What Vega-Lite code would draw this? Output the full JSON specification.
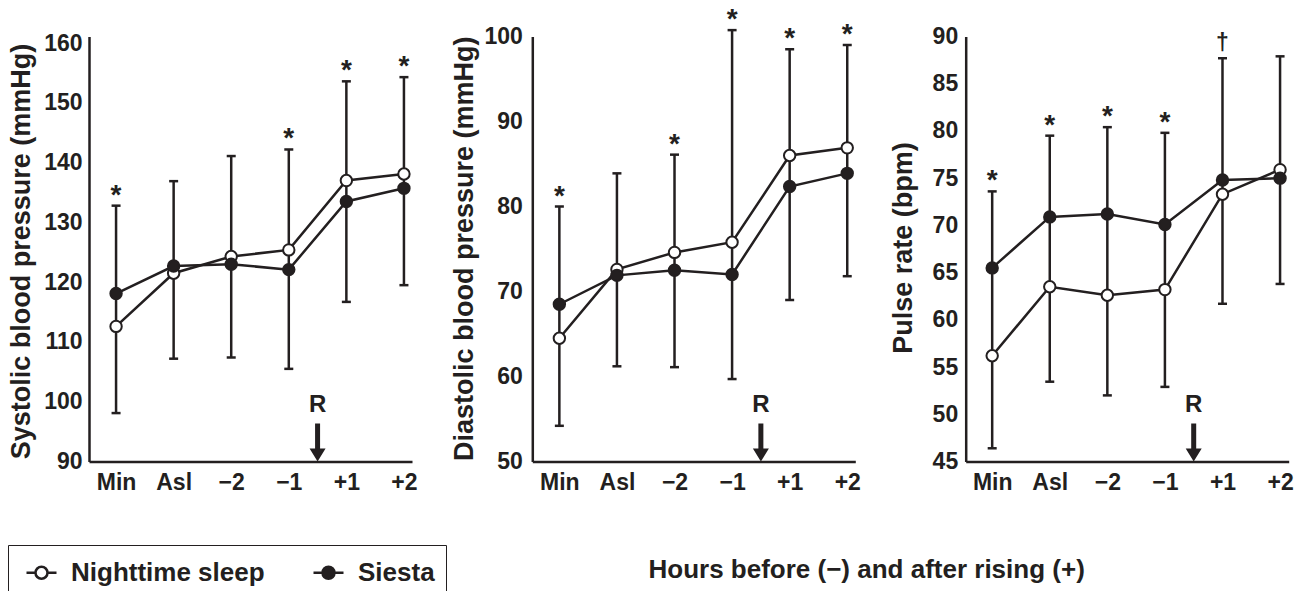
{
  "$schema": "https://vega.github.io/schema/vega-lite/v6.json",
  "padding": {"left": 7, "top": 5.5, "right": 0, "bottom": 0},
  "datasets": {
    "d": [
      {"panel": "SBP", "t": 0, "Nighttime sleep": 112.6, "Siesta": 118.1, "lo": 98.1, "hi": 132.8, "sig": "*"},
      {"panel": "SBP", "t": 1, "Nighttime sleep": 121.5, "Siesta": 122.7, "lo": 107.2, "hi": 136.9, "sig": ""},
      {"panel": "SBP", "t": 2, "Nighttime sleep": 124.3, "Siesta": 123.0, "lo": 107.4, "hi": 141.1, "sig": ""},
      {"panel": "SBP", "t": 3, "Nighttime sleep": 125.4, "Siesta": 122.1, "lo": 105.5, "hi": 142.2, "sig": "*"},
      {"panel": "SBP", "t": 4, "Nighttime sleep": 137.0, "Siesta": 133.5, "lo": 116.7, "hi": 153.6, "sig": "*"},
      {"panel": "SBP", "t": 5, "Nighttime sleep": 138.1, "Siesta": 135.7, "lo": 119.5, "hi": 154.3, "sig": "*"},
      {"panel": "DBP", "t": 0, "Nighttime sleep": 64.5, "Siesta": 68.5, "lo": 54.2, "hi": 80.0, "sig": "*"},
      {"panel": "DBP", "t": 1, "Nighttime sleep": 72.6, "Siesta": 71.9, "lo": 61.2, "hi": 83.9, "sig": ""},
      {"panel": "DBP", "t": 2, "Nighttime sleep": 74.6, "Siesta": 72.5, "lo": 61.1, "hi": 86.1, "sig": "*"},
      {"panel": "DBP", "t": 3, "Nighttime sleep": 75.8, "Siesta": 72.0, "lo": 59.7, "hi": 100.75, "sig": "*"},
      {"panel": "DBP", "t": 4, "Nighttime sleep": 86.0, "Siesta": 82.35, "lo": 69.0, "hi": 98.5, "sig": "*"},
      {"panel": "DBP", "t": 5, "Nighttime sleep": 86.9, "Siesta": 83.9, "lo": 71.8, "hi": 99.0, "sig": "*"},
      {"panel": "PR", "t": 0, "Nighttime sleep": 56.2, "Siesta": 65.5, "lo": 46.4, "hi": 73.6, "sig": "*"},
      {"panel": "PR", "t": 1, "Nighttime sleep": 63.5, "Siesta": 70.9, "lo": 53.45, "hi": 79.5, "sig": "*"},
      {"panel": "PR", "t": 2, "Nighttime sleep": 62.6, "Siesta": 71.2, "lo": 52.0, "hi": 80.4, "sig": "*"},
      {"panel": "PR", "t": 3, "Nighttime sleep": 63.2, "Siesta": 70.1, "lo": 52.9, "hi": 79.8, "sig": "*"},
      {"panel": "PR", "t": 4, "Nighttime sleep": 73.3, "Siesta": 74.8, "lo": 61.7, "hi": 87.7, "sig": "†"},
      {"panel": "PR", "t": 5, "Nighttime sleep": 75.9, "Siesta": 75.0, "lo": 63.8, "hi": 87.9, "sig": ""}
    ],
    "rise": [
      {"t": 3.5, "label": "R"}
    ]
  },
  "bounds": "flush",
  "spacing": 120.3,
  "resolve": {"legend": {"fill": "independent"}},
  "hconcat": [
    {
      "width": 323, "height": 425,
      "layer": [
        {"data": {"name": "d"}, "transform": [{"filter": "datum.panel === 'SBP'"}, {"fold": ["Nighttime sleep", "Siesta"], "as": ["group", "value"]}],
         "mark": {"type": "line", "color": "#231f20", "strokeWidth": 2.5},
         "encoding": {
           "x": {"field": "t", "type": "quantitative", "scale": {"domain": [-0.47, 5.14], "nice": false, "zero": false}, "axis": {"values": [0, 1, 2, 3, 4, 5], "labelExpr": "['Min','Asl','−2','−1','+1','+2'][datum.value]", "title": null, "labelPadding": 10}},
           "y": {"field": "value", "type": "quantitative", "scale": {"domain": [90, 161.1], "nice": false, "zero": false}, "axis": {"values": [90, 100, 110, 120, 130, 140, 150, 160], "title": "Systolic blood pressure (mmHg)", "titleX": -59.5, "titleY": 214.5, "titleAngle": 270, "titleAlign": "center", "titleBaseline": "alphabetic", "labelPadding": 7}},
           "detail": {"field": "group"}}},
        {"data": {"name": "d"}, "transform": [{"filter": "datum.panel === 'SBP'"}],
         "mark": {"type": "rule", "color": "#231f20", "strokeWidth": 2.5},
         "encoding": {"x": {"field": "t", "type": "quantitative"}, "y": {"field": "lo", "type": "quantitative"}, "y2": {"field": "hi"}}},
        {"data": {"name": "d"}, "transform": [{"filter": "datum.panel === 'SBP'"}],
         "mark": {"type": "point", "shape": "stroke", "size": 81, "filled": false, "color": "#231f20", "strokeWidth": 2.5, "opacity": 1},
         "encoding": {"x": {"field": "t", "type": "quantitative"}, "y": {"field": "hi", "type": "quantitative"}}},
        {"data": {"name": "d"}, "transform": [{"filter": "datum.panel === 'SBP'"}],
         "mark": {"type": "point", "shape": "stroke", "size": 81, "filled": false, "color": "#231f20", "strokeWidth": 2.5, "opacity": 1},
         "encoding": {"x": {"field": "t", "type": "quantitative"}, "y": {"field": "lo", "type": "quantitative"}}},
        {"data": {"name": "d"}, "transform": [{"filter": "datum.panel === 'SBP'"}, {"fold": ["Nighttime sleep", "Siesta"], "as": ["group", "value"]}],
         "mark": {"type": "point", "filled": true, "size": 130, "stroke": "#231f20", "strokeWidth": 2, "opacity": 1},
         "encoding": {"x": {"field": "t", "type": "quantitative"}, "y": {"field": "value", "type": "quantitative"},
           "fill": {"field": "group", "type": "nominal", "scale": {"domain": ["Nighttime sleep", "Siesta"], "range": ["#ffffff", "#231f20"]},
             "legend": {"title": null, "orient": "none", "legendX": -81, "legendY": 508.5, "direction": "horizontal", "columns": 2,
               "symbolType": "M-1,0H-0.4M0.4,0H1M-0.4,0A0.4,0.4,0,1,1,0.4,0A0.4,0.4,0,1,1,-0.4,0Z", "symbolSize": 900,
               "symbolStrokeColor": "#231f20", "symbolStrokeWidth": 2.5, "symbolOffset": 6,
               "labelFont": "Liberation Sans", "labelFontSize": 26, "labelFontWeight": "bold", "labelColor": "#231f20", "labelLimit": 0,
               "labelOffset": 13, "columnPadding": 41, "padding": 11, "strokeColor": "#231f20"}}}},
        {"data": {"name": "d"}, "transform": [{"filter": "datum.panel === 'SBP' && datum.sig === '*'"}],
         "mark": {"type": "text", "fontSize": 28, "baseline": "alphabetic", "dy": -2},
         "encoding": {"x": {"field": "t", "type": "quantitative"}, "y": {"field": "hi", "type": "quantitative"}, "text": {"field": "sig"}}},
        {"data": {"name": "rise"},
         "mark": {"type": "text", "fontSize": 24, "baseline": "middle", "dy": -57},
         "encoding": {"x": {"field": "t", "type": "quantitative"}, "y": {"datum": 90}, "text": {"field": "label"}}},
        {"data": {"name": "rise"},
         "mark": {"type": "point", "shape": "M-2.5,-38L2.5,-38L2.5,-13L8,-13L0,0L-8,-13L-2.5,-13Z", "size": 4, "filled": true, "color": "#231f20", "opacity": 1},
         "encoding": {"x": {"field": "t", "type": "quantitative"}, "y": {"datum": 90}}}
      ]
    },
    {
      "bounds": "flush",
      "spacing": 110.4,
      "hconcat": [
        {
          "width": 323, "height": 425,
          "layer": [
            {"data": {"name": "d"}, "transform": [{"filter": "datum.panel === 'DBP'"}, {"fold": ["Nighttime sleep", "Siesta"], "as": ["group", "value"]}],
             "mark": {"type": "line", "color": "#231f20", "strokeWidth": 2.5},
             "encoding": {
               "x": {"field": "t", "type": "quantitative", "scale": {"domain": [-0.47, 5.14], "nice": false, "zero": false}, "axis": {"values": [0, 1, 2, 3, 4, 5], "labelExpr": "['Min','Asl','−2','−1','+1','+2'][datum.value]", "title": "Hours before (−) and after rising (+)", "titleX": 115.7, "titleY": 115.5, "titleAlign": "left", "titleBaseline": "alphabetic", "titleAngle": 0, "titleFontSize": 26, "labelPadding": 10}},
               "y": {"field": "value", "type": "quantitative", "scale": {"domain": [50, 100], "nice": false, "zero": false}, "axis": {"values": [50, 60, 70, 80, 90, 100], "title": "Diastolic blood pressure (mmHg)", "titleX": -59.8, "titleY": 211.8, "titleAngle": 270, "titleAlign": "center", "titleBaseline": "alphabetic", "labelPadding": 10}},
               "detail": {"field": "group"}}},
            {"data": {"name": "d"}, "transform": [{"filter": "datum.panel === 'DBP'"}],
             "mark": {"type": "rule", "color": "#231f20", "strokeWidth": 2.5},
             "encoding": {"x": {"field": "t", "type": "quantitative"}, "y": {"field": "lo", "type": "quantitative"}, "y2": {"field": "hi"}}},
            {"data": {"name": "d"}, "transform": [{"filter": "datum.panel === 'DBP'"}],
             "mark": {"type": "point", "shape": "stroke", "size": 81, "filled": false, "color": "#231f20", "strokeWidth": 2.5, "opacity": 1},
             "encoding": {"x": {"field": "t", "type": "quantitative"}, "y": {"field": "hi", "type": "quantitative"}}},
            {"data": {"name": "d"}, "transform": [{"filter": "datum.panel === 'DBP'"}],
             "mark": {"type": "point", "shape": "stroke", "size": 81, "filled": false, "color": "#231f20", "strokeWidth": 2.5, "opacity": 1},
             "encoding": {"x": {"field": "t", "type": "quantitative"}, "y": {"field": "lo", "type": "quantitative"}}},
            {"data": {"name": "d"}, "transform": [{"filter": "datum.panel === 'DBP'"}, {"fold": ["Nighttime sleep", "Siesta"], "as": ["group", "value"]}],
             "mark": {"type": "point", "filled": true, "size": 130, "stroke": "#231f20", "strokeWidth": 2, "opacity": 1},
             "encoding": {"x": {"field": "t", "type": "quantitative"}, "y": {"field": "value", "type": "quantitative"},
               "fill": {"field": "group", "type": "nominal", "scale": {"domain": ["Nighttime sleep", "Siesta"], "range": ["#ffffff", "#231f20"]}, "legend": null}}},
            {"data": {"name": "d"}, "transform": [{"filter": "datum.panel === 'DBP' && datum.sig === '*'"}],
             "mark": {"type": "text", "fontSize": 28, "baseline": "alphabetic", "dy": -2},
             "encoding": {"x": {"field": "t", "type": "quantitative"}, "y": {"field": "hi", "type": "quantitative"}, "text": {"field": "sig"}}},
            {"data": {"name": "rise"},
             "mark": {"type": "text", "fontSize": 24, "baseline": "middle", "dy": -57},
             "encoding": {"x": {"field": "t", "type": "quantitative"}, "y": {"datum": 50}, "text": {"field": "label"}}},
            {"data": {"name": "rise"},
             "mark": {"type": "point", "shape": "M-2.5,-38L2.5,-38L2.5,-13L8,-13L0,0L-8,-13L-2.5,-13Z", "size": 4, "filled": true, "color": "#231f20", "opacity": 1},
             "encoding": {"x": {"field": "t", "type": "quantitative"}, "y": {"datum": 50}}}
          ]
        },
        {
          "width": 323, "height": 425,
          "layer": [
            {"data": {"name": "d"}, "transform": [{"filter": "datum.panel === 'PR'"}, {"fold": ["Nighttime sleep", "Siesta"], "as": ["group", "value"]}],
             "mark": {"type": "line", "color": "#231f20", "strokeWidth": 2.5},
             "encoding": {
               "x": {"field": "t", "type": "quantitative", "scale": {"domain": [-0.46, 5.15], "nice": false, "zero": false}, "axis": {"values": [0, 1, 2, 3, 4, 5], "labelExpr": "['Min','Asl','−2','−1','+1','+2'][datum.value]", "title": null, "labelPadding": 10}},
               "y": {"field": "value", "type": "quantitative", "scale": {"domain": [45, 90], "nice": false, "zero": false}, "axis": {"values": [45, 50, 55, 60, 65, 70, 75, 80, 85, 90], "title": "Pulse rate (bpm)", "titleX": -54.2, "titleY": 211, "titleAngle": 270, "titleAlign": "center", "titleBaseline": "alphabetic", "labelPadding": 8}},
               "detail": {"field": "group"}}},
            {"data": {"name": "d"}, "transform": [{"filter": "datum.panel === 'PR'"}],
             "mark": {"type": "rule", "color": "#231f20", "strokeWidth": 2.5},
             "encoding": {"x": {"field": "t", "type": "quantitative"}, "y": {"field": "lo", "type": "quantitative"}, "y2": {"field": "hi"}}},
            {"data": {"name": "d"}, "transform": [{"filter": "datum.panel === 'PR'"}],
             "mark": {"type": "point", "shape": "stroke", "size": 81, "filled": false, "color": "#231f20", "strokeWidth": 2.5, "opacity": 1},
             "encoding": {"x": {"field": "t", "type": "quantitative"}, "y": {"field": "hi", "type": "quantitative"}}},
            {"data": {"name": "d"}, "transform": [{"filter": "datum.panel === 'PR'"}],
             "mark": {"type": "point", "shape": "stroke", "size": 81, "filled": false, "color": "#231f20", "strokeWidth": 2.5, "opacity": 1},
             "encoding": {"x": {"field": "t", "type": "quantitative"}, "y": {"field": "lo", "type": "quantitative"}}},
            {"data": {"name": "d"}, "transform": [{"filter": "datum.panel === 'PR'"}, {"fold": ["Nighttime sleep", "Siesta"], "as": ["group", "value"]}],
             "mark": {"type": "point", "filled": true, "size": 130, "stroke": "#231f20", "strokeWidth": 2, "opacity": 1},
             "encoding": {"x": {"field": "t", "type": "quantitative"}, "y": {"field": "value", "type": "quantitative"},
               "fill": {"field": "group", "type": "nominal", "scale": {"domain": ["Nighttime sleep", "Siesta"], "range": ["#ffffff", "#231f20"]}, "legend": null}}},
            {"data": {"name": "d"}, "transform": [{"filter": "datum.panel === 'PR' && datum.sig === '*'"}],
             "mark": {"type": "text", "fontSize": 28, "baseline": "alphabetic", "dy": -2},
             "encoding": {"x": {"field": "t", "type": "quantitative"}, "y": {"field": "hi", "type": "quantitative"}, "text": {"field": "sig"}}},
            {"data": {"name": "d"}, "transform": [{"filter": "datum.panel === 'PR' && datum.sig === '†'"}],
             "mark": {"type": "text", "fontSize": 23, "baseline": "alphabetic", "dy": -8},
             "encoding": {"x": {"field": "t", "type": "quantitative"}, "y": {"field": "hi", "type": "quantitative"}, "text": {"field": "sig"}}},
            {"data": {"name": "rise"},
             "mark": {"type": "text", "fontSize": 24, "baseline": "middle", "dy": -57},
             "encoding": {"x": {"field": "t", "type": "quantitative"}, "y": {"datum": 45}, "text": {"field": "label"}}},
            {"data": {"name": "rise"},
             "mark": {"type": "point", "shape": "M-2.5,-38L2.5,-38L2.5,-13L8,-13L0,0L-8,-13L-2.5,-13Z", "size": 4, "filled": true, "color": "#231f20", "opacity": 1},
             "encoding": {"x": {"field": "t", "type": "quantitative"}, "y": {"datum": 45}}}
          ]
        }
      ]
    }
  ],
  "config": {
    "font": "Liberation Sans",
    "view": {"stroke": null},
    "axis": {"grid": false, "ticks": false, "domainColor": "#231f20", "domainWidth": 2.5, "labelFont": "Liberation Sans", "labelFontSize": 23, "labelFontWeight": "bold", "labelColor": "#231f20", "titleFont": "Liberation Sans", "titleFontSize": 27, "titleFontWeight": "bold", "titleColor": "#231f20", "labelOverlap": false, "labelFlush": false},
    "text": {"font": "Liberation Sans", "fontWeight": "bold", "color": "#231f20"}
  }
}
